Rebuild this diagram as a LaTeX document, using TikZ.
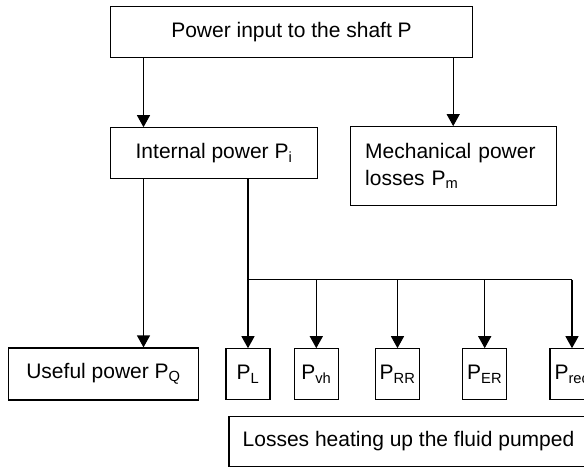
\documentclass[tikz,border=0pt]{standalone}
\usepackage{fontspec}
\setmainfont{Liberation Sans}
\usetikzlibrary{arrows.meta, positioning, calc}

\begin{document}
\begin{tikzpicture}[
		x=1pt, y=-1pt,
		line width=1.2pt,
		>={Triangle[length=12pt, width=13pt]},
		box/.style={rectangle, draw, align=center, minimum height=51pt, font=\fontsize{21}{27}\selectfont},
		small/.style={box, minimum width=44pt, minimum height=51pt, inner sep=1pt}
		]
		
		% Frame of the picture (cut at the right as in the original)
		\useasboundingbox (0,0) rectangle (584,467);
		\clip (0,0) rectangle (584,467);
		
		% Main boxes
		\node[box, minimum width=362pt] (shaft) at (291.5,32.2) {Power input to the shaft P};
		\node[box, minimum width=207pt] (internal) at (214,153.3) {Internal power P\textsubscript{i}};
		\node[box, minimum width=206pt, minimum height=79pt, text width=176pt, align=left] (mech) at (453.2,166.2) {Mechanical power\\losses P\textsubscript{m}};
		
		% Bottom row
		\node[box, minimum width=190pt, minimum height=52pt] (useful) at (103.5,374) {Useful power P\textsubscript{Q}};
		\node[small] (pl) at (248,374.3) {P\textsubscript{L}};
		\node[small] (pvh) at (316.3,374.3) {P\textsubscript{vh}};
		\node[small] (prr) at (397.5,374.3) {P\textsubscript{RR}};
		\node[small] (per) at (484.7,374.3) {P\textsubscript{ER}};
		\node[small] (prec) at (572,374.3) {P\textsubscript{rec}};
		
		% Losses label below the small boxes
		\node[box, minimum width=359pt, minimum height=50pt] (losses) at (408.5,441.5) {Losses heating up the fluid pumped};
		
		% Arrows from the shaft power
		\draw[->] ([xshift=33.6pt]shaft.south west) -- ([xshift=33.6pt]internal.north west);
		\draw[->] (shaft.south -| mech.north) -- (mech.north);
		
		% Useful power
		\draw[->] ([xshift=33.6pt]internal.south west) -- ([xshift=33.6pt]internal.south west |- useful.north);
		
		% Split line to the losses
		\coordinate (bus) at (248,279.7);
		\coordinate (busend) at (572,279.7);
		\draw (internal.south -| bus) -- (bus) -- (busend);
		\draw[->] (bus) -- (pl.north);
		\draw[->] (bus -| pvh.north) -- (pvh.north);
		\draw[->] (bus -| prr.north) -- (prr.north);
		\draw[->] (bus -| per.north) -- (per.north);
		\draw[->] (busend) -- (prec.north);
		
	\end{tikzpicture}
\end{document}
